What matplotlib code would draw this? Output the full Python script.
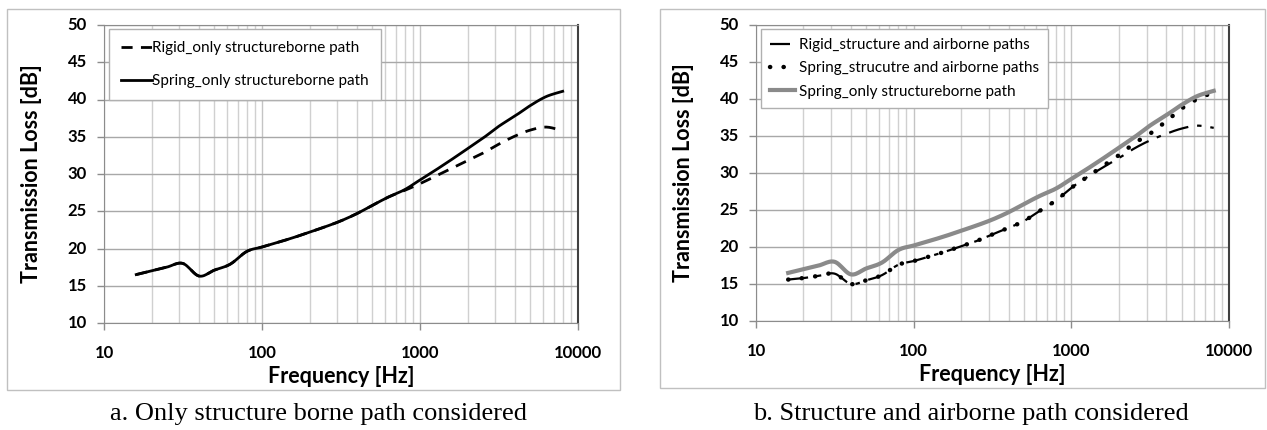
import matplotlib
matplotlib.use("Agg")
import numpy as np
import matplotlib.pyplot as plt
import matplotlib.transforms as mtransforms
from matplotlib.patches import Rectangle
from matplotlib.ticker import LogLocator, NullFormatter

# third-octave band centre frequencies [Hz]
freq = [16, 20, 25, 31.5, 40, 50, 63, 80, 100, 125, 160, 200, 250, 315, 400,
        500, 630, 800, 1000, 1250, 1600, 2000, 2500, 3150, 4000, 5000, 6300, 8000]

# panel a
spring_only = [16.5, 17.0, 17.5, 18.0, 16.3, 17.1, 17.9, 19.6, 20.2, 20.8, 21.5,
               22.2, 22.9, 23.7, 24.7, 25.8, 26.9, 27.9, 29.2, 30.5, 32.0, 33.4,
               34.8, 36.4, 37.8, 39.2, 40.4, 41.1]
rigid_only = [16.5, 17.0, 17.5, 18.0, 16.3, 17.1, 17.9, 19.6, 20.2, 20.8, 21.5,
              22.2, 22.9, 23.7, 24.7, 25.8, 26.9, 27.8, 28.7, 29.7, 30.8, 31.8,
              32.8, 34.0, 35.1, 35.9, 36.3, 35.8]

# panel b
spring_sa = [15.6, 15.8, 16.1, 16.4, 15.0, 15.5, 16.2, 17.6, 18.1, 18.7, 19.4,
             20.1, 20.8, 21.7, 22.6, 23.5, 24.9, 26.3, 28.0, 29.4, 31.0, 32.4,
             34.0, 35.3, 37.0, 38.7, 40.0, 40.9]
rigid_sa = [15.6, 15.8, 16.1, 16.4, 15.0, 15.5, 16.2, 17.6, 18.1, 18.7, 19.4,
            20.1, 20.8, 21.7, 22.6, 23.5, 24.9, 26.3, 28.0, 29.4, 30.8, 32.0,
            33.3, 34.4, 35.3, 36.0, 36.4, 36.1]

yticks = [10, 15, 20, 25, 30, 35, 40, 45, 50]
yticklabels = [str(v) for v in yticks]
xticks = [10, 100, 1000, 10000]
xticklabels = ['10', '100', '1000', '10000']

W, H = 1267, 430
fig = plt.figure(figsize=(W / 100, H / 100), dpi=100)

tick_font = dict(family='Lato', fontweight='bold', fontsize=12)
label_font = dict(family='Lato', fontweight='bold', fontsize=15.5)
leg_font = dict(family='Lato', size=11)


def px_axes(left, right, top, bottom):
    return fig.add_axes([left / W, 1 - bottom / H, (right - left) / W, (bottom - top) / H])


def smooth(x, y, n=12):
    # Excel-style smoothed line: Catmull-Rom through the points in log-x
    lx = np.log10(x)
    p = np.column_stack([lx, y])
    p = np.vstack([p[0], p, p[-1]])
    out = []
    t = np.linspace(0, 1, n, endpoint=False)[:, None]
    for i in range(1, len(p) - 2):
        p0, p1, p2, p3 = p[i - 1], p[i], p[i + 1], p[i + 2]
        seg = 0.5 * ((2 * p1) + (-p0 + p2) * t + (2 * p0 - 5 * p1 + 4 * p2 - p3) * t ** 2
                     + (-p0 + 3 * p1 - 3 * p2 + p3) * t ** 3)
        out.append(seg)
    out.append(p[-2][None, :])
    out = np.vstack(out)
    return 10 ** out[:, 0], out[:, 1]


def style_axes(ax, xlab_y, ylab_x):
    ax.set_xscale('log')
    ax.set_xlim(10, 10000)
    ax.set_ylim(10, 50)
    ax.set_xticks(xticks)
    ax.set_yticks(yticks)
    ax.xaxis.set_minor_locator(LogLocator(base=10, subs=range(2, 10)))
    ax.xaxis.set_minor_formatter(NullFormatter())
    ax.grid(axis='y', which='major', color='#a8a8a8', lw=1.0)
    ax.grid(axis='x', which='major', color='#c4c4c4', lw=1.0)
    ax.grid(axis='x', which='minor', color='#d0d0d0', lw=1.0)
    ax.set_axisbelow(True)
    for s in ['left', 'bottom', 'top']:
        ax.spines[s].set_color('#8c8c8c')
    ax.spines['right'].set_color('#404040')
    ax.spines['right'].set_linewidth(1.5)
    ax.tick_params(axis='both', which='major', direction='out', length=5,
                   color='#8c8c8c', width=1, labelbottom=False, labelleft=False)
    ax.tick_params(axis='x', which='minor', length=0)
    # bold tick labels written at the tick values
    xtr = mtransforms.offset_copy(ax.get_xaxis_transform(), fig=fig, y=-30, units='dots')
    for v, s in zip(xticks, xticklabels):
        ax.text(v, 0, s, transform=xtr, ha='center', va='center', clip_on=False, **tick_font)
    ytr = mtransforms.offset_copy(ax.get_yaxis_transform(), fig=fig, x=-17, units='dots')
    for v, s in zip(yticks, yticklabels):
        ax.text(0, v, s, transform=ytr, ha='right', va='center', clip_on=False, **tick_font)
    ax.text(0.5, xlab_y, 'Frequency [Hz]', transform=ax.transAxes,
            ha='center', va='center', **label_font)
    ax.text(ylab_x, 0.5, 'Transmission Loss [dB]', transform=ax.transAxes, rotation=90,
            ha='center', va='center', **label_font)


# frames around panels
fig.patches.append(Rectangle((7 / W, 1 - 390 / H), 613 / W, 381 / H, transform=fig.transFigure,
                             fill=False, edgecolor='#c0c0c0', lw=1))
fig.patches.append(Rectangle((660 / W, 1 - 388 / H), 605 / W, 379 / H, transform=fig.transFigure,
                             fill=False, edgecolor='#c0c0c0', lw=1))

# panel a
ax1 = px_axes(104, 578, 25, 323)
style_axes(ax1, -0.181, -0.152)
ax1.plot(*smooth(freq, rigid_only), color='black', lw=2, ls=(0, (4, 3)),
         label='Rigid_only structureborne path')
ax1.plot(*smooth(freq, spring_only), color='black', lw=2, label='Spring_only structureborne path')
leg1 = ax1.legend(loc='upper left', bbox_to_anchor=(0.0105, 0.987), borderaxespad=0,
                  fancybox=False, edgecolor='#b0b0b0', framealpha=1,
                  handlelength=2.0, handletextpad=0.0, labelspacing=1.25,
                  borderpad=0.8, prop=leg_font)
leg1.get_frame().set_linewidth(1)

# panel b
ax2 = px_axes(756, 1229, 25, 321)
style_axes(ax2, -0.182, -0.154)
ax2.plot(*smooth(freq, rigid_sa), color='black', lw=1.6, ls=(0, (9, 4, 2, 4)),
         label='Rigid_structure and airborne paths')
ax2.plot(*smooth(freq, spring_sa), color='black', lw=3.2, ls=(0, (0.05, 3.0)),
         dash_capstyle='round', label='Spring_strucutre and airborne paths')
ax2.plot(*smooth(freq, spring_only), color='#8a8a8a', lw=3, label='Spring_only structureborne path')
leg2 = ax2.legend(loc='upper left', bbox_to_anchor=(0.0106, 0.986), borderaxespad=0,
                  fancybox=False, edgecolor='#b0b0b0', framealpha=1,
                  handlelength=1.6, handletextpad=0.3, labelspacing=0.6,
                  borderpad=0.6, prop=leg_font)
leg2.get_frame().set_linewidth(1)

# captions
fig.text(318 / W, 1 - 414 / H, 'a. Only structure borne path considered',
         ha='center', va='center', family='Liberation Serif', fontsize=19)
fig.text(971 / W, 1 - 414 / H, 'b. Structure and airborne path considered',
         ha='center', va='center', family='Liberation Serif', fontsize=19)

fig.savefig('out.png', dpi=100)
